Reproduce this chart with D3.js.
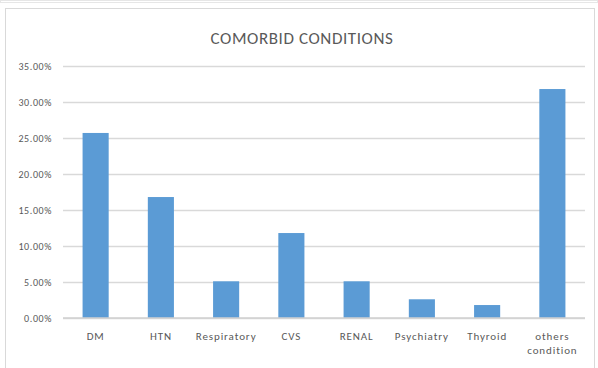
<!DOCTYPE html>
<html>
<head>
<meta charset="utf-8">
<script src="https://cdn.jsdelivr.net/npm/d3@7"></script>
<style>
  html, body { margin: 0; padding: 0; background: #ffffff; }
  svg { display: block; }
</style>
</head>
<body>
<svg id="chart" width="598" height="368"></svg>
<script>
// Comorbid conditions, share of patients (%)
const categories = ["DM", "HTN", "Respiratory", "CVS", "RENAL", "Psychiatry", "Thyroid", "others condition"];
const values = [25.7, 16.8, 5.1, 11.8, 5.1, 2.6, 1.8, 31.8];
const yTicks = [0, 5, 10, 15, 20, 25, 30, 35];
const title = "COMORBID CONDITIONS";

const W = 598, H = 368;
const margin = { top: 66, right: 13, bottom: 50, left: 63 };
const svg = d3.select("#chart");
const font = "Carlito, Calibri, 'Open Sans', sans-serif";

// chart frame
svg.append("rect")
  .attr("x", 0.5).attr("y", 0.5).attr("width", W - 1).attr("height", 2)
  .attr("fill", "none").attr("stroke", "#e6e6e6");
svg.append("rect")
  .attr("x", 5.5).attr("y", 8.5).attr("width", 589).attr("height", H)
  .attr("fill", "#ffffff").attr("stroke", "#d9d9d9");

const x = d3.scaleBand()
  .domain(categories)
  .range([margin.left, W - margin.right])
  .paddingInner(0.6)
  .paddingOuter(0.3);

const y = d3.scaleLinear()
  .domain([0, 35])
  .range([H - margin.bottom, margin.top]);

// gridlines + y labels
const yAxis = d3.axisLeft(y)
  .tickValues(yTicks)
  .tickSize(-(W - margin.right - margin.left))
  .tickPadding(11)
  .tickFormat(d => d.toFixed(2) + "%");

const gy = svg.append("g")
  .attr("transform", `translate(${margin.left},0)`)
  .call(yAxis);
gy.select(".domain").remove();
gy.selectAll(".tick line").attr("stroke", "#d9d9d9").attr("stroke-width", 1.3);
gy.selectAll(".tick text")
  .attr("fill", "#595959")
  .style("font-family", font)
  .style("font-size", "10px")
  .style("letter-spacing", "0.6px");

// bars
svg.append("g").selectAll("rect")
  .data(categories)
  .join("rect")
  .attr("x", d => x(d))
  .attr("width", x.bandwidth())
  .attr("y", (d, i) => y(values[i]))
  .attr("height", (d, i) => y(0) - y(values[i]))
  .attr("fill", "#5b9bd5");

// baseline
svg.append("line")
  .attr("x1", margin.left).attr("x2", W - margin.right)
  .attr("y1", y(0)).attr("y2", y(0))
  .attr("stroke", "#d0d0d0").attr("stroke-width", 1.3);

// x labels (wrap long names onto two lines)
const gx = svg.append("g")
  .attr("transform", `translate(0,${y(0)})`)
  .call(d3.axisBottom(x).tickSize(0).tickPadding(0));
gx.select(".domain").remove();
gx.selectAll(".tick text").each(function(d) {
  const t = d3.select(this).text(null)
    .attr("fill", "#595959")
    .attr("y", 0)
    .attr("dy", null)
    .style("font-family", font)
    .style("font-size", "11px")
    .style("letter-spacing", "0.9px");
  const words = d.split(" ");
  const lines = words.length > 1 && d.length > 12 ? words : [d];
  lines.forEach((w, i) => {
    t.append("tspan").attr("x", 0).attr("y", 22 + i * 14).text(w);
  });
});

// title
svg.append("text")
  .attr("x", 302).attr("y", 44)
  .attr("text-anchor", "middle")
  .attr("fill", "#595959")
  .style("font-family", font)
  .style("font-size", "17px")
  .style("letter-spacing", "0.6px")
  .text(title);
</script>
</body>
</html>
